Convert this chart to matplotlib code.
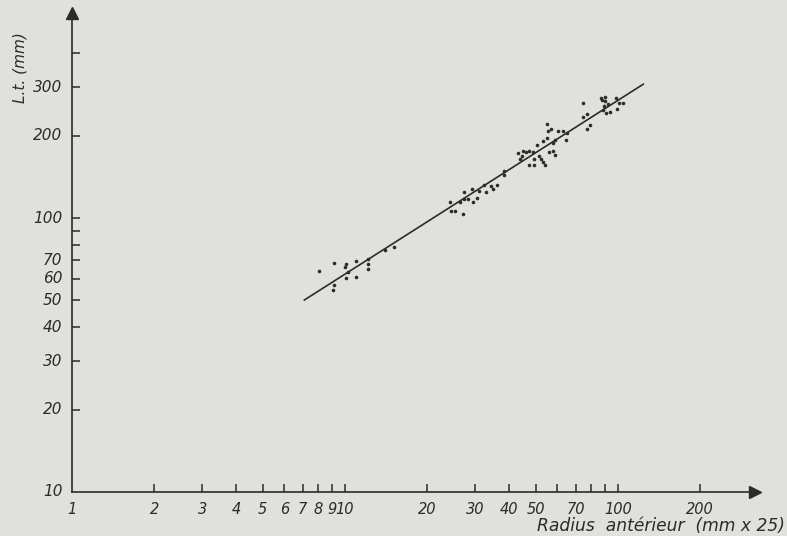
import numpy as np
import matplotlib
matplotlib.use('Agg')
import matplotlib.pyplot as plt
from matplotlib.ticker import FixedLocator, NullLocator, NullFormatter

# radius (mm x 25) and total length (mm)
radius = [8.05, 9.09, 10.1, 10.0, 11.0, 10.06, 11.0, 9.14, 9.05, 10.3,
          12.1, 12.1, 12.1, 14.0, 15.1,
          24.2, 24.4, 25.4, 27.0, 26.5, 27.3, 27.3, 28.3, 29.1, 29.5,
          30.4, 31.0, 32.4, 32.9, 34.2, 34.8, 36.1, 38.2, 38.2, 47.3, 49.2,
          43.1, 44.8, 45.9, 47.3, 49.0, 44.6, 43.8, 49.2, 51.5, 52.1,
          53.0, 53.9, 50.6, 53.0, 54.8, 54.8, 55.4, 57.0, 58.6, 57.9,
          56.0, 57.7, 58.6, 60.4, 63.0, 64.9, 64.5,
          74.3, 77.2, 78.9, 77.2, 74.6, 86.4, 89.6, 87.4, 89.6, 88.9,
          92.2, 98.3, 101.1, 104.6, 98.9, 90.1, 93.5, 88.3]
length = [63.9, 68.5, 68.1, 66.4, 69.9, 60.5, 61.1, 57.1, 54.5, 63.4,
          71.0, 68.0, 65.0, 76.2, 78.2,
          114.1, 106.3, 106.3, 103.7, 114.1, 124.7, 117.0, 117.6, 127.3, 114.7,
          118.0, 125.8, 131.9, 124.1, 131.2, 127.6, 131.9, 148.8, 143.5, 156.5, 156.5,
          172.2, 176.0, 174.6, 175.6, 174.6, 168.4, 164.6, 164.6, 168.4, 164.6,
          160.5, 156.5, 184.2, 191.4, 195.4, 219.8, 208.3, 211.3, 192.6, 187.4,
          174.6, 176.0, 170.2, 208.3, 208.3, 203.8, 192.6,
          233.1, 239.7, 217.9, 211.8, 262.2, 274.8, 275.8, 269.5, 267.9, 257.0,
          260.7, 273.5, 263.5, 263.5, 250.0, 242.3, 243.8, 247.9]

# fitted line, end points
fit_x = [7.1, 124]
fit_y = [50.2, 308]

x_ticks = [2, 3, 4, 5, 6, 7, 8, 9, 10, 20, 30, 40, 50, 60, 70, 80, 90, 100, 200]
x_labels = {1: '1', 2: '2', 3: '3', 4: '4', 5: '5', 6: '6', 7: '7', 8: '8', 9: '9',
            10: '10', 20: '20', 30: '30', 40: '40', 50: '50', 70: '70',
            100: '100', 200: '200'}
y_ticks = [20, 30, 40, 50, 60, 70, 80, 90, 100, 200, 300, 400]
y_labels = {10: '10', 20: '20', 30: '30', 40: '40', 50: '50', 60: '60', 70: '70',
            100: '100', 200: '200', 300: '300'}

ink = '#2b2b2b'
paper = '#e0e0dc'

fig = plt.figure(figsize=(7.87, 5.36), dpi=100, facecolor=paper)
ax = fig.add_axes([72 / 787, 44 / 536, 683 / 787, 479 / 536])
ax.set_facecolor(paper)
ax.set_xscale('log')
ax.set_yscale('log')
ax.set_xlim(1, 318)
ax.set_ylim(10, 560)

ax.plot(fit_x, fit_y, color=ink, lw=1.2)
ax.plot(radius, length, 'o', color=ink, ms=2.6, mec='none')

for s in ['top', 'right']:
    ax.spines[s].set_visible(False)
for s in ['left', 'bottom']:
    ax.spines[s].set_color(ink)
    ax.spines[s].set_linewidth(1.2)

# arrow heads
ax.plot(1, 0, '>', color=ink, ms=9, transform=ax.transAxes, clip_on=False)
ax.plot(0, 1, '^', color=ink, ms=9, transform=ax.transAxes, clip_on=False)

ax.xaxis.set_major_locator(FixedLocator(x_ticks))
ax.xaxis.set_minor_locator(NullLocator())
ax.xaxis.set_minor_formatter(NullFormatter())
ax.xaxis.set_major_formatter(NullFormatter())
ax.yaxis.set_major_locator(FixedLocator(y_ticks))
ax.yaxis.set_minor_locator(NullLocator())
ax.yaxis.set_minor_formatter(NullFormatter())
ax.yaxis.set_major_formatter(NullFormatter())
ax.tick_params(direction='in', length=6, width=1.1, color=ink)

font = dict(family='DejaVu Sans', style='italic', size=11, color=ink)
for v, t in x_labels.items():
    ax.annotate(t, (v, 0), xycoords=('data', 'axes fraction'),
                xytext=(0, -7), textcoords='offset points',
                ha='center', va='top', size=10.5, family='DejaVu Sans',
                style='italic', color=ink)
for v, t in y_labels.items():
    ax.annotate(t, (0, v), xycoords=('axes fraction', 'data'),
                xytext=(-7, 0), textcoords='offset points',
                ha='right', va='center', **font)

fig.text(20 / 787, 1 - 68 / 536, 'L.t. (mm)', rotation=90,
         ha='center', va='center', **font)
fig.text(785 / 787, 1 - 526 / 536, 'Radius  antérieur  (mm x 25)',
         ha='right', va='center', family='DejaVu Sans', style='italic',
         size=12.3, color=ink)

fig.savefig('out.png', dpi=100, facecolor=paper)
